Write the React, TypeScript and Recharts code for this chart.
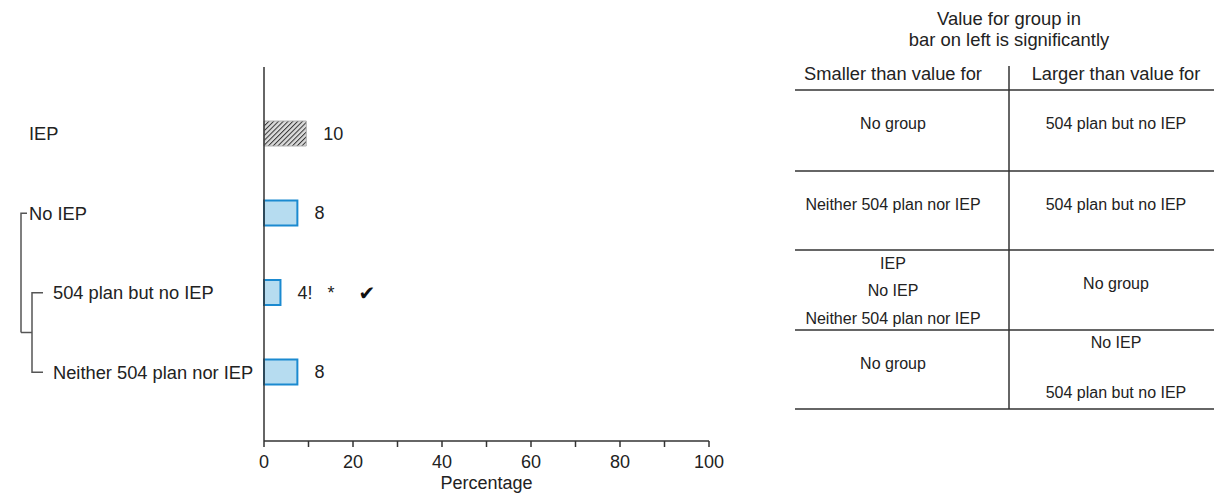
import React from 'react';
import { BarChart, Bar, XAxis, YAxis, LabelList, Cell } from 'recharts';

// ---- data ----
const categories = ['IEP', 'No IEP', '504 plan but no IEP', 'Neither 504 plan nor IEP'];
const percentages = [9.5, 7.5, 3.7, 7.5];
const valueLabels = ['10', '8', '4!', '8'];
const significanceMarks = ['', '', '*', ''];
const checkMarks = ['', '', '\u2714', ''];
const categoryLevels = [0, 0, 1, 1];
const xTicks = [0, 10, 20, 30, 40, 50, 60, 70, 80, 90, 100];
const xTickLabels = ['0', '', '20', '', '40', '', '60', '', '80', '', '100'];
const xAxisTitle = 'Percentage';

const tableTitle = ['Value for group in', 'bar on left is significantly'];
const tableHeaders = ['Smaller than value for', 'Larger than value for'];
const smallerThan = [
  ['No group'],
  ['Neither 504 plan nor IEP'],
  ['IEP', 'No IEP', 'Neither 504 plan nor IEP'],
  ['No group'],
];
const largerThan = [
  ['504 plan but no IEP'],
  ['504 plan but no IEP'],
  ['No group'],
  ['No IEP', '504 plan but no IEP'],
];

const chartData = categories.map((name, i) => ({
  name,
  value: percentages[i],
  label: valueLabels[i],
  sig: significanceMarks[i],
  check: checkMarks[i],
}));

// ---- layout / style ----
const FONT = '"Liberation Sans", Arial, sans-serif';
const TEXT = '#222';
const LINE = '#333';
const BLUE_FILL = '#b6dcf0';
const BLUE_STROKE = '#1b8ad0';
const CHART_W = 760;
const CHART_H = 493;
const PLOT_TOP = 67;
const PAD_TOP = 27;
const PAD_BOTTOM = 29;
const X_AXIS_H = 52;
const BAND = (CHART_H - X_AXIS_H - PLOT_TOP - PAD_TOP - PAD_BOTTOM) / categories.length;

const LABEL_X = [29, 53];
const PARENT_X = 21;
const CHILD_X = 32;

const YTick = (props: any) => {
  const { y, index } = props;
  const level = categoryLevels[index];
  const parts: React.ReactNode[] = [];
  if (index === 1) {
    parts.push(
      <path key="p" d={`M${PARENT_X + 6},${y} H${PARENT_X} V${y + BAND * 1.5}`} fill="none" stroke="#555" strokeWidth={1.5} />
    );
  }
  if (index === 2) {
    parts.push(
      <path key="c1" d={`M${CHILD_X + 11},${y} H${CHILD_X} V${y + BAND} H${CHILD_X + 11}`} fill="none" stroke="#555" strokeWidth={1.5} />,
      <path key="c2" d={`M${PARENT_X},${y + BAND / 2} H${CHILD_X}`} fill="none" stroke="#555" strokeWidth={1.5} />
    );
  }
  return (
    <g>
      {parts}
      <text x={LABEL_X[level]} y={y} dy="0.36em" textAnchor="start" fill={TEXT} fontSize={18.3} fontFamily={FONT}>
        {categories[index]}
      </text>
    </g>
  );
};

// table layout
const TABLE_LEFT = 795;
const TABLE_RIGHT = 1214;
const DIVIDER_X = 1009;
const COL_CENTERS = [893, 1116];
const ROW_LINES = [90, 171, 250, 330, 409];
const LINE_OFFSETS: Record<number, number[]> = { 1: [33], 2: [12, 62], 3: [13, 40, 68] };

const Table = () => (
  <svg width={1214} height={493} style={{ position: 'absolute', left: 0, top: 0, pointerEvents: 'none' }} fontFamily={FONT}>
    {tableTitle.map((t, i) => (
      <text key={t} x={DIVIDER_X} y={18 + i * 21} textAnchor="middle" dominantBaseline="central" fontSize={18.4} fill={TEXT}>
        {t}
      </text>
    ))}
    {tableHeaders.map((t, i) => (
      <text key={t} x={COL_CENTERS[i]} y={73} textAnchor="middle" dominantBaseline="central" fontSize={18.3} fill={TEXT}>
        {t}
      </text>
    ))}
    <line x1={DIVIDER_X} x2={DIVIDER_X} y1={66} y2={ROW_LINES[ROW_LINES.length - 1]} stroke={LINE} strokeWidth={1.5} />
    {ROW_LINES.map((ly) => (
      <line key={ly} x1={TABLE_LEFT} x2={TABLE_RIGHT} y1={ly} y2={ly} stroke={LINE} strokeWidth={1.5} />
    ))}
    {[smallerThan, largerThan].map((col, ci) =>
      col.map((cell, ri) =>
        cell.map((t, li) => (
          <text
            key={`${ci}-${ri}-${li}`}
            x={COL_CENTERS[ci]}
            y={ROW_LINES[ri] + LINE_OFFSETS[cell.length][li]}
            textAnchor="middle"
            dominantBaseline="central"
            fontSize={16}
            fill={TEXT}
          >
            {t}
          </text>
        ))
      )
    )}
  </svg>
);

export default function App() {
  return (
    <div style={{ position: 'absolute', left: 0, top: 0, width: 1214, height: 493, overflow: 'hidden', fontFamily: FONT, background: '#fff' }}>
      <BarChart
        width={CHART_W}
        height={CHART_H}
        data={chartData}
        layout="vertical"
        margin={{ top: PLOT_TOP, right: 51, bottom: 0, left: 0 }}
      >
        <defs>
          <pattern id="hatch" patternUnits="userSpaceOnUse" width={3.4} height={3.4} patternTransform="rotate(45)">
            <rect width={3.4} height={3.4} fill="#dcdcdc" />
            <line x1={0} y1={0} x2={0} y2={3.4} stroke="#333" strokeWidth={2} />
          </pattern>
        </defs>
        <XAxis
          type="number"
          domain={[0, 100]}
          ticks={xTicks}
          tickFormatter={(v: number) => xTickLabels[xTicks.indexOf(v)]}
          interval={0}
          height={X_AXIS_H}
          axisLine={{ stroke: LINE, strokeWidth: 1.5 }}
          tickLine={{ stroke: LINE, strokeWidth: 1.5 }}
          tickSize={6}
          tickMargin={8}
          tick={{ fill: TEXT, fontSize: 18, fontFamily: FONT }}
          label={{ value: xAxisTitle, position: 'insideBottom', offset: 4, fill: TEXT, fontSize: 18, fontFamily: FONT }}
        />
        <YAxis
          type="category"
          dataKey="name"
          width={264}
          padding={{ top: PAD_TOP, bottom: PAD_BOTTOM }}
          axisLine={{ stroke: LINE, strokeWidth: 1.5 }}
          tickLine={false}
          interval={0}
          tick={<YTick />}
        />
        <Bar dataKey="value" barSize={25} isAnimationActive={false} strokeWidth={2}>
          {chartData.map((d, i) => (
            <Cell
              key={d.name}
              fill={i === 0 ? 'url(#hatch)' : BLUE_FILL}
              stroke={i === 0 ? '#b0b0b0' : BLUE_STROKE}
              strokeWidth={i === 0 ? 1 : 2}
            />
          ))}
          <LabelList dataKey="label" position="right" offset={17} fill={TEXT} fontSize={18} fontFamily={FONT} />
          <LabelList dataKey="sig" position="right" offset={47} fill={TEXT} fontSize={18} fontFamily={FONT} />
          <LabelList dataKey="check" position="right" offset={78} fill="#111" fontSize={20} fontFamily='"DejaVu Sans", sans-serif' />
        </Bar>
      </BarChart>
      <Table />
    </div>
  );
}
